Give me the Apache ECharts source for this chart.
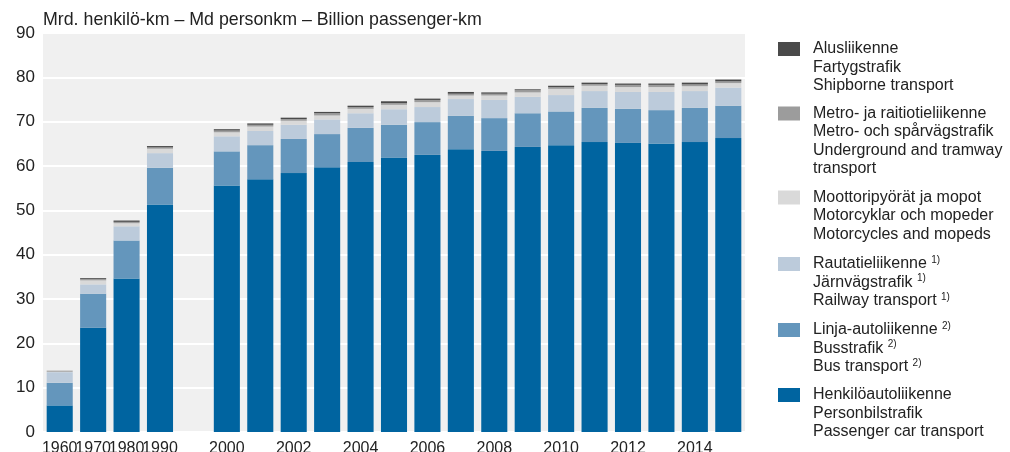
<!DOCTYPE html>
<html>
<head>
<meta charset="utf-8">
<script src="https://cdn.jsdelivr.net/npm/echarts@6/dist/echarts.min.js"></script>
<style>
html,body{margin:0;padding:0;background:#fff;}
#chart{width:1010px;height:452px;}
</style>
</head>
<body>
<div id="chart"></div>
<script>
// ---- data ----
var categories = ['1960','1970','1980','1990','','2000','2001','2002','2003','2004','2005','2006','2007','2008','2009','2010','2011','2012','2013','2014','2015'];
var tickLabels = ['1960','1970','1980','1990','','2000','','2002','','2004','','2006','','2008','','2010','','2012','','2014',''];
var car   = [6.0, 23.5, 34.6, 51.3, null, 55.6, 57.0, 58.4, 59.7, 60.9, 61.9, 62.5, 63.8, 63.4, 64.3, 64.7, 65.4, 65.2, 65.1, 65.4, 66.3];
var bus   = [5.1, 7.7, 8.6, 8.3, null, 7.7, 7.7, 7.7, 7.5, 7.7, 7.4, 7.4, 7.5, 7.4, 7.6, 7.6, 7.7, 7.7, 7.5, 7.7, 7.3];
var rail  = [2.4, 2.1, 3.2, 3.3, null, 3.4, 3.2, 3.2, 3.3, 3.3, 3.5, 3.4, 3.8, 4.1, 3.7, 3.7, 3.8, 3.8, 4.1, 3.8, 4.1];
var moto  = [0.1, 0.9, 0.7, 1.0, null, 0.9, 1.0, 0.9, 0.9, 1.0, 1.0, 1.1, 0.8, 1.0, 1.0, 1.4, 1.2, 1.1, 1.1, 1.1, 1.0];
var metro = [0.15, 0.3, 0.3, 0.3, null, 0.4, 0.4, 0.4, 0.5, 0.4, 0.4, 0.5, 0.4, 0.4, 0.5, 0.4, 0.4, 0.5, 0.5, 0.4, 0.4];
var ship  = [0.05, 0.2, 0.3, 0.3, null, 0.3, 0.3, 0.3, 0.3, 0.3, 0.4, 0.3, 0.4, 0.3, 0.2, 0.3, 0.3, 0.3, 0.3, 0.4, 0.4];

var seriesNames = ['Henkilöautoliikenne','Linja-autoliikenne','Rautatieliikenne','Moottoripyörät ja mopot','Metro- ja raitiotieliikenne','Alusliikenne'];
var legendLabels = {
  'Alusliikenne': 'Alusliikenne\nFartygstrafik\nShipborne transport',
  'Metro- ja raitiotieliikenne': 'Metro- ja raitiotieliikenne\nMetro- och spårvägstrafik\nUnderground and tramway\ntransport',
  'Moottoripyörät ja mopot': 'Moottoripyörät ja mopot\nMotorcyklar och mopeder\nMotorcycles and mopeds',
  'Rautatieliikenne': 'Rautatieliikenne {sup|1)}\nJärnvägstrafik {sup|1)}\nRailway transport {sup|1)}',
  'Linja-autoliikenne': 'Linja-autoliikenne {sup|2)}\nBusstrafik {sup|2)}\nBus transport {sup|2)}',
  'Henkilöautoliikenne': 'Henkilöautoliikenne\nPersonbilstrafik\nPassenger car transport'
};
var titleText = 'Mrd. henkilö-km – Md personkm – Billion passenger-km';

// ---- styling ----
var FONT = '"Liberation Sans", Arial, Helvetica, sans-serif';
var colors = ['#0064a0', '#6496bc', '#bccbdb', '#d9d9d9', '#9c9c9c', '#4a4a4a'];
var LH = 18.5;
var legendOrder = ['Alusliikenne','Metro- ja raitiotieliikenne','Moottoripyörät ja mopot','Rautatieliikenne','Linja-autoliikenne','Henkilöautoliikenne'];
var legendFirstLine = [49, 113.5, 197.5, 264, 330, 395];

function iconPath(nLines) {
  var H = nLines * LH;
  var c = LH / 2;
  var y0 = c - 7, y1 = c + 7;
  return 'path://M0,0L0.001,0M0,' + y0 + 'L22,' + y0 + 'L22,' + y1 + 'L0,' + y1 + 'ZM30,' + H + 'L29.999,' + H;
}

var legends = legendOrder.map(function (name, i) {
  var n = legendLabels[name].split('\n').length;
  return {
    show: true,
    left: 778,
    top: legendFirstLine[i] - LH / 2,
    padding: 0,
    orient: 'vertical',
    selectedMode: false,
    itemWidth: 30,
    itemHeight: n * LH,
    symbolKeepAspect: false,
    itemStyle: { borderWidth: 0 },
    data: [{ name: name, icon: iconPath(n) }],
    formatter: function (nm) { return legendLabels[nm]; },
    textStyle: {
      fontFamily: FONT,
      fontSize: 16,
      color: '#222',
      lineHeight: LH,
      rich: {
        sup: { fontSize: 10, fontFamily: FONT, color: '#222', padding: [0, 0, 8, 0], lineHeight: 10 }
      }
    }
  };
});

var dataArrays = [car, bus, rail, moto, metro, ship];
var series = seriesNames.map(function (nm, i) {
  return {
    name: nm,
    type: 'bar',
    stack: 'total',
    data: dataArrays[i],
    barCategoryGap: '22%',
    itemStyle: { color: colors[i], borderWidth: 0 },
    emphasis: { disabled: true },
    animation: false
  };
});

var chart = echarts.init(document.getElementById('chart'), null, { renderer: 'canvas' });
chart.setOption({
  animation: false,
  color: colors,
  textStyle: { fontFamily: FONT },
  title: {
    text: titleText,
    left: 37,
    top: 11,
    padding: [0, 0, 0, 6],
    textStyle: { fontFamily: FONT, fontSize: 17.8, fontWeight: 'normal', color: '#222' }
  },
  legend: legends,
  grid: {
    left: 43, right: 265, top: 33, bottom: 20,
    show: true, backgroundColor: '#f0f0f0', borderWidth: 0,
    containLabel: false,
    outerBoundsMode: 'none'
  },
  xAxis: {
    type: 'category',
    data: categories,
    axisLine: { show: false },
    axisTick: { show: false },
    axisLabel: {
      interval: 0,
      margin: 9,
      fontFamily: FONT,
      fontSize: 16,
      color: '#222',
      formatter: function (v, idx) { return tickLabels[idx]; }
    }
  },
  yAxis: {
    type: 'value',
    min: 0, max: 90, interval: 10,
    axisLine: { show: false },
    axisTick: { show: false },
    splitLine: { show: true, lineStyle: { color: '#ffffff', width: 2 } },
    axisLabel: { fontFamily: FONT, fontSize: 17, color: '#222', margin: 8 }
  },
  series: series
});
</script>
</body>
</html>
